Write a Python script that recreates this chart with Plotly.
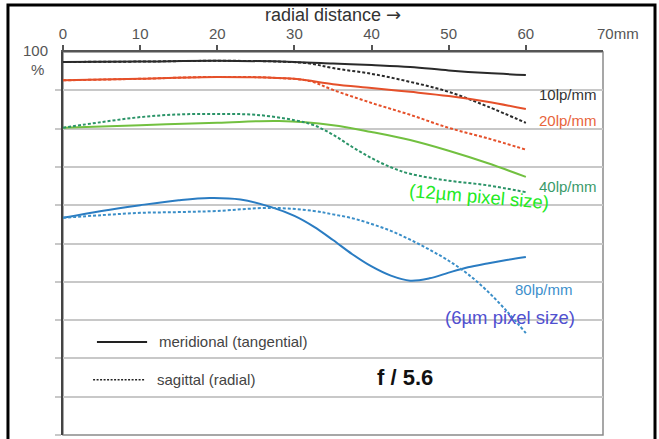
import plotly.graph_objects as go

# MTF (%) versus radial distance (mm) at f/5.6
x_10_m = [0, 10, 20, 30, 35, 40, 45, 50, 55, 60]
y_10_m = [97.4, 97.5, 97.7, 97.4, 97.0, 96.6, 96.1, 95.2, 94.5, 94.0]
x_10_s = [0, 10, 20, 28, 32, 35, 40, 45, 50, 55, 60]
y_10_s = [97.4, 97.5, 97.7, 97.5, 97.0, 95.8, 94.3, 92.2, 89.6, 85.8, 81.5]

x_20_m = [0, 10, 20, 30, 35, 40, 45, 50, 55, 60]
y_20_m = [92.6, 93.0, 93.5, 93.0, 91.6, 90.6, 89.6, 88.5, 87.0, 85.1]
x_20_s = [0, 10, 20, 28, 32, 35, 40, 45, 50, 55, 60]
y_20_s = [92.6, 93.0, 93.5, 93.2, 92.4, 90.1, 86.7, 83.6, 80.2, 77.5, 74.5]

x_40_m = [0, 10, 20, 28, 35, 40, 45, 50, 55, 60]
y_40_m = [80.2, 80.9, 81.5, 82.0, 80.9, 79.1, 77.0, 74.2, 71.0, 67.4]
x_40_s = [0, 5, 10, 15, 20, 25, 30, 32.5, 35, 37.5, 40, 42.5, 45, 50, 55, 60]
y_40_s = [80.2, 81.7, 83.0, 83.7, 83.8, 83.6, 82.2, 80.9, 78.4, 75.2, 72.3, 69.9, 68.2, 66.4, 65.2, 63.4]

x_80_m = [0, 5, 10, 15, 19, 23, 27, 30, 32.5, 35, 37.5, 40, 42.5, 45, 47.5, 50, 52.5, 55, 57.5, 60]
y_80_m = [56.7, 58.5, 60.0, 61.3, 61.9, 61.5, 59.5, 57.2, 54.4, 50.9, 47.2, 44.0, 41.6, 40.3, 40.9, 42.4, 43.8, 44.8, 45.7, 46.5]
x_80_s = [0, 5, 10, 15, 20, 27, 32.5, 35, 37.5, 40, 42.5, 45, 47.5, 50, 52.5, 55, 57.5, 60]
y_80_s = [56.7, 57.4, 58.0, 58.2, 58.5, 59.3, 58.5, 57.6, 56.6, 55.1, 53.3, 51.0, 48.4, 45.5, 42.0, 37.6, 32.4, 26.6]

x_ticks = [0, 10, 20, 30, 40, 50, 60]
y_grid = [0, 10, 20, 30, 40, 50, 60, 70, 80, 90]

FONT = "Liberation Sans, Arial, sans-serif"
DOT = "3px,2px"

series = [
    (x_10_m, y_10_m, "#2a2a2a", "solid"),
    (x_10_s, y_10_s, "#2a2a2a", DOT),
    (x_20_m, y_20_m, "#e5502a", "solid"),
    (x_20_s, y_20_s, "#e5502a", DOT),
    (x_40_m, y_40_m, "#72c040", "solid"),
    (x_40_s, y_40_s, "#2b9468", DOT),
    (x_80_m, y_80_m, "#2a7cc2", "solid"),
    (x_80_s, y_80_s, "#3a8ec8", DOT),
]

fig = go.Figure()
for xs, ys, color, dash in series:
    fig.add_trace(go.Scatter(
        x=xs, y=ys, mode="lines",
        line=dict(color=color, width=2, dash=dash, shape="spline", smoothing=1),
        showlegend=False, hoverinfo="skip",
    ))

annotations = [
    dict(x=61.4, y=88.8, text="10lp/mm", color="#333333", size=15, anchor="left"),
    dict(x=61.4, y=82.2, text="20lp/mm", color="#e8643c", size=15, anchor="left"),
    dict(x=61.4, y=64.8, text="40lp/mm", color="#3a9a6a", size=15, anchor="left"),
    dict(x=58.3, y=37.9, text="80lp/mm", color="#3d8fcc", size=15, anchor="left"),
    dict(x=49.3, y=30.8, text="(6µm pixel size)", color="#5050d0", size=18.5, anchor="left"),
    dict(x=40.4, y=15.1, text="<b>f / 5.6</b>", color="#111111", size=22, anchor="left"),
    dict(x=12.2, y=24.3, text="meridional (tangential)", color="#444444", size=15, anchor="left"),
    dict(x=11.9, y=14.4, text="sagittal (radial)", color="#444444", size=15, anchor="left"),
]
for a in annotations:
    fig.add_annotation(
        x=a["x"], y=a["y"], xref="x", yref="y", text=a["text"], showarrow=False,
        xanchor=a["anchor"], yanchor="middle",
        font=dict(family=FONT, size=a["size"], color=a["color"]),
    )

# slanted note under the 40 lp/mm curves
fig.add_annotation(
    x=53.9, y=62.2, xref="x", yref="y", text="(12µm pixel size)", showarrow=False,
    textangle=5, font=dict(family=FONT, size=18.5, color="#22ea22"),
)

# axis title, far-end tick label and the 100 % mark
fig.add_annotation(x=0.5, y=1.098, xref="paper", yref="paper",
                   text="radial distance <span style='font-family:DejaVu Sans'>→</span>",
                   showarrow=False, xanchor="center", yanchor="middle",
                   font=dict(family=FONT, size=18, color="#333333"))
fig.add_annotation(x=68.9, y=1.047, xref="x", yref="paper", text="70mm",
                   showarrow=False, xanchor="left", yanchor="middle",
                   font=dict(family=FONT, size=15, color="#555555"))
fig.add_annotation(x=-0.025, y=1.005, xref="paper", yref="paper", text="100",
                   showarrow=False, xanchor="right", yanchor="middle",
                   font=dict(family=FONT, size=15, color="#555555"))
fig.add_annotation(x=-0.048, y=0.955, xref="paper", yref="paper", text="%",
                   showarrow=False, xanchor="center", yanchor="middle",
                   font=dict(family=FONT, size=15, color="#555555"))

# legend key lines
fig.add_shape(type="line", x0=4.4, x1=10.9, y0=24.3, y1=24.3, xref="x", yref="y",
              line=dict(color="#222222", width=2))
fig.add_shape(type="line", x0=3.9, x1=10.6, y0=14.4, y1=14.4, xref="x", yref="y",
              line=dict(color="#222222", width=1.5, dash="2px,1.5px"))

# plot border (right and bottom) and outer frame
fig.add_shape(type="rect", x0=0, x1=1, y0=0, y1=1, xref="paper", yref="paper",
              line=dict(color="#8a8a8a", width=1.5), layer="below")
fig.add_shape(type="rect", x0=-0.1019, x1=1.0963, y0=-0.03, y1=1.1227,
              xref="paper", yref="paper", line=dict(color="#000000", width=3))

fig.update_layout(
    width=659, height=439,
    margin=dict(l=63, r=56, t=52, b=4),
    paper_bgcolor="white", plot_bgcolor="white",
    font=dict(family=FONT),
    xaxis=dict(
        range=[0, 70], side="top", tickvals=x_ticks, ticktext=[str(v) for v in x_ticks],
        ticks="outside", ticklen=5, tickwidth=2, tickcolor="#555555",
        showline=True, linecolor="#555555", linewidth=2,
        showgrid=False, zeroline=False,
        tickfont=dict(family=FONT, size=15, color="#555555"),
    ),
    yaxis=dict(
        range=[0, 100], tickvals=y_grid, showticklabels=False,
        ticks="outside", ticklen=6, tickwidth=1.5, tickcolor="#c8c8c8",
        showline=True, linecolor="#444444", linewidth=2,
        showgrid=True, gridcolor="#c8c8c8", gridwidth=1.5, zeroline=False,
    ),
)

fig.write_html("out.html")
